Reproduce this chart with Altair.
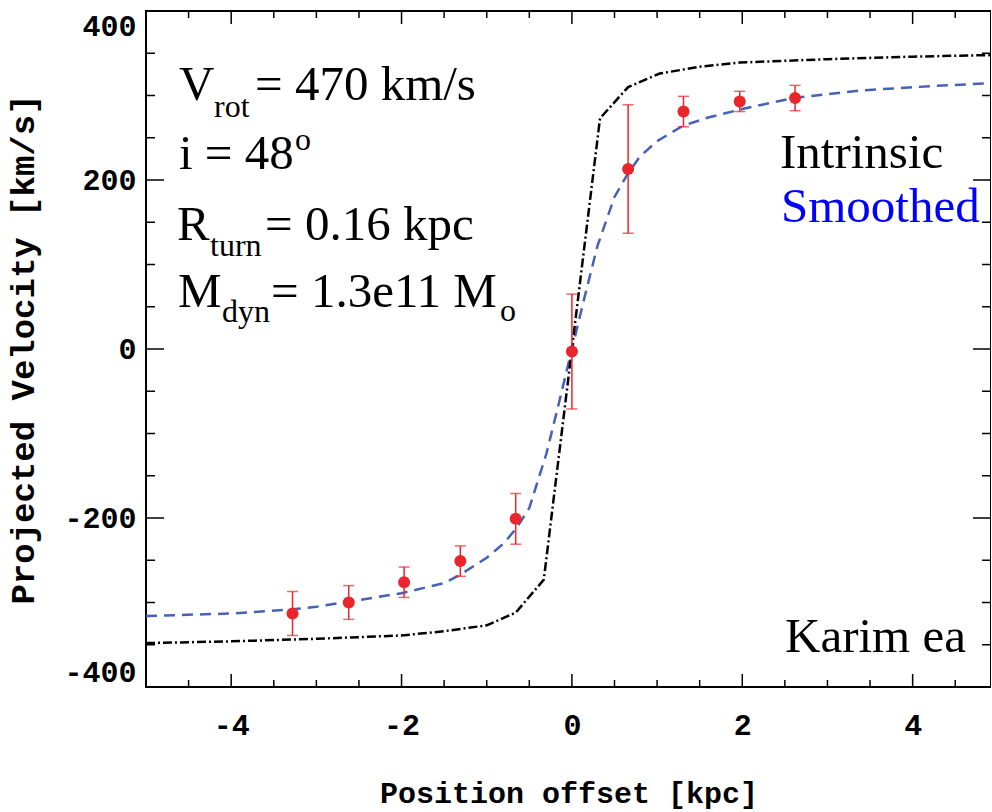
import altair as alt
import pandas as pd

# ---------------- data ----------------
pos = [-3.28, -2.62, -1.97, -1.31, -0.66, 0.0, 0.66, 1.31, 1.97, 2.62]
vel = [-313, -300, -276, -251, -201, -3, 213, 281, 293, 297]
err = [26, 20, 18, 18, 30, 68, 76, 18, 12, 15]

int_x = [-5.0, -4.0, -3.0, -2.0, -1.5, -1.0, -0.66, -0.33, 0.33, 0.66, 1.03, 1.5, 1.97, 3.0, 4.0, 5.0]
int_v = [-348, -346, -343, -339, -334, -327, -312, -273, 273, 310, 326, 334, 339, 343, 346, 348]

sm_x = [-5.0, -4.0, -3.28, -3.0, -2.62, -2.0, -1.5, -1.31, -1.0, -0.8, -0.65, -0.5, -0.3, -0.15, 0.0,
        0.15, 0.3, 0.5, 0.66, 0.8, 1.0, 1.3, 1.6, 2.0, 2.6, 3.4, 4.2, 5.0]
sm_v = [-316, -313, -308, -305, -299, -289, -277, -267, -247, -230, -212, -188, -124, -63, 0,
        62, 122, 180, 208, 228, 246, 264, 274, 284, 297, 306, 311, 315]

x_major = [-4, -2, 0, 2, 4]
x_minor = [-4.5, -3.5, -3, -2.5, -1.5, -1, -0.5, 0.5, 1, 1.5, 2.5, 3, 3.5, 4.5]
y_major = [-400, -200, 0, 200, 400]
y_minor = [-350, -300, -250, -150, -100, -50, 50, 100, 150, 250, 300, 350]

x_title = "Position offset [kpc]"
y_title = "Projected Velocity [km/s]"

# annotation fragments: text, x, baseline y (absolute page px), size, colour
ann_text = ["V", "rot", "= 470 km/s",
            "i = 48", "o",
            "R", "turn", "= 0.16 kpc",
            "M", "dyn", "= 1.3e11 M", "o",
            "Intrinsic", "Smoothed", "Karim ea"]
ann_x = [179, 214, 255, 179, 295, 177, 210, 265, 178, 222, 271, 500, 780, 781, 785]
ann_y = [100, 117, 100, 169, 150, 240, 256, 240, 307, 322, 307, 321, 168, 222, 652]
ann_s = [49, 32, 49, 49, 32, 49, 32, 49, 49, 32, 49, 32, 49, 49, 49]
ann_c = ["black"] * 13 + ["#0000ff", "black"]

# ---------------- layout ----------------
LEFT, TOP = 146, 11
W, H = 845, 676
XDOM = [-5, 4.92]
YDOM = [-400, 400]
RED = "#e8262b"
MONO = "Liberation Mono"

xs = alt.Scale(domain=XDOM, nice=False, zero=False)
ys = alt.Scale(domain=YDOM, nice=False, zero=False)

xaxis = alt.Axis(values=x_major, labelExpr="'' + datum.value", ticks=False, domain=False, grid=False,
                 labelFont=MONO, labelFontWeight="bold", labelFontSize=30, labelColor="black",
                 labelPadding=23, title=x_title, titleFont=MONO, titleFontWeight="bold",
                 titleFontSize=30, titleColor="black", titleBaseline="alphabetic", titleY=115)
yaxis = alt.Axis(values=y_major, labelExpr="'' + datum.value", ticks=False, domain=False, grid=False,
                 labelFont=MONO, labelFontWeight="bold", labelFontSize=30, labelColor="black",
                 labelPadding=10, labelFlush=True, title=y_title, titleFont=MONO,
                 titleFontWeight="bold", titleFontSize=34, titleColor="black",
                 titleBaseline="alphabetic", titleX=-113, titleAngle=270)


def X(f):
    return alt.X(f, type="quantitative", scale=xs, axis=xaxis)


def Y(f):
    return alt.Y(f, type="quantitative", scale=ys, axis=yaxis)


pts = pd.DataFrame({"x": pos, "v": vel, "lo": [v - e for v, e in zip(vel, err)],
                    "hi": [v + e for v, e in zip(vel, err)]})
intr = pd.DataFrame({"x": int_x, "v": int_v})
smo = pd.DataFrame({"x": sm_x, "v": sm_v})
# annotation anchor positions converted from page pixels to data units
ann = pd.DataFrame({
    "t": ann_text,
    "x": [XDOM[0] + (a - LEFT) / W * (XDOM[1] - XDOM[0]) for a in ann_x],
    "v": [YDOM[1] - (b - TOP) / H * (YDOM[1] - YDOM[0]) for b in ann_y],
    "s": ann_s, "c": ann_c})

smooth_line = alt.Chart(smo).mark_line(color="#4561b8", strokeWidth=2.5, strokeDash=[11, 7],
                                       clip=True).encode(x=X("x"), y=Y("v"))
intr_line = alt.Chart(intr).mark_line(color="black", strokeWidth=2.5, strokeDash=[9, 3, 2, 3],
                                      clip=True).encode(x=X("x"), y=Y("v"))

ebar = alt.Chart(pts).mark_rule(color=RED, strokeWidth=1.5).encode(
    x=X("x"), y=Y("lo"), y2="hi:Q")
cap_lo = alt.Chart(pts).mark_tick(color=RED, orient="horizontal", size=11, thickness=1.5).encode(
    x=X("x"), y=Y("lo"))
cap_hi = alt.Chart(pts).mark_tick(color=RED, orient="horizontal", size=11, thickness=1.5).encode(
    x=X("x"), y=Y("hi"))
dots = alt.Chart(pts).mark_circle(color=RED, size=145, opacity=1).encode(x=X("x"), y=Y("v"))


def xticks(vals, length):
    d = pd.DataFrame({"x": vals})
    b = alt.Chart(d).mark_rule(color="black", strokeWidth=1.5).encode(
        x=X("x"), y=alt.value(H), y2=alt.value(H - length))
    t = alt.Chart(d).mark_rule(color="black", strokeWidth=1.5).encode(
        x=X("x"), y=alt.value(0), y2=alt.value(length))
    return [b, t]


def yticks(vals, length):
    d = pd.DataFrame({"v": vals})
    l = alt.Chart(d).mark_rule(color="black", strokeWidth=1.5).encode(
        y=Y("v"), x=alt.value(0), x2=alt.value(length))
    r = alt.Chart(d).mark_rule(color="black", strokeWidth=1.5).encode(
        y=Y("v"), x=alt.value(W), x2=alt.value(W - length))
    return [l, r]


text = alt.Chart(ann).mark_text(font="Liberation Serif", align="left",
                                baseline="alphabetic").encode(
    x=X("x"), y=Y("v"),
    text="t:N", size=alt.Size("s:Q", scale=None, legend=None),
    color=alt.Color("c:N", scale=None, legend=None))

layers = ([smooth_line, intr_line] + xticks(x_minor, 7) + xticks(x_major, 13)
          + yticks(y_minor, 9) + yticks(y_major[1:-1], 18)
          + [ebar, cap_lo, cap_hi, dots, text])

chart = alt.layer(*layers).properties(
    width=W, height=H,
    autosize=alt.AutoSizeParams(type="none"),
    padding={"left": LEFT, "top": TOP, "right": 0, "bottom": 812 - TOP - H},
    background="white",
).configure_view(stroke="black", strokeWidth=2)

chart.save("out.html", embed_options={"renderer": "svg", "actions": False})
